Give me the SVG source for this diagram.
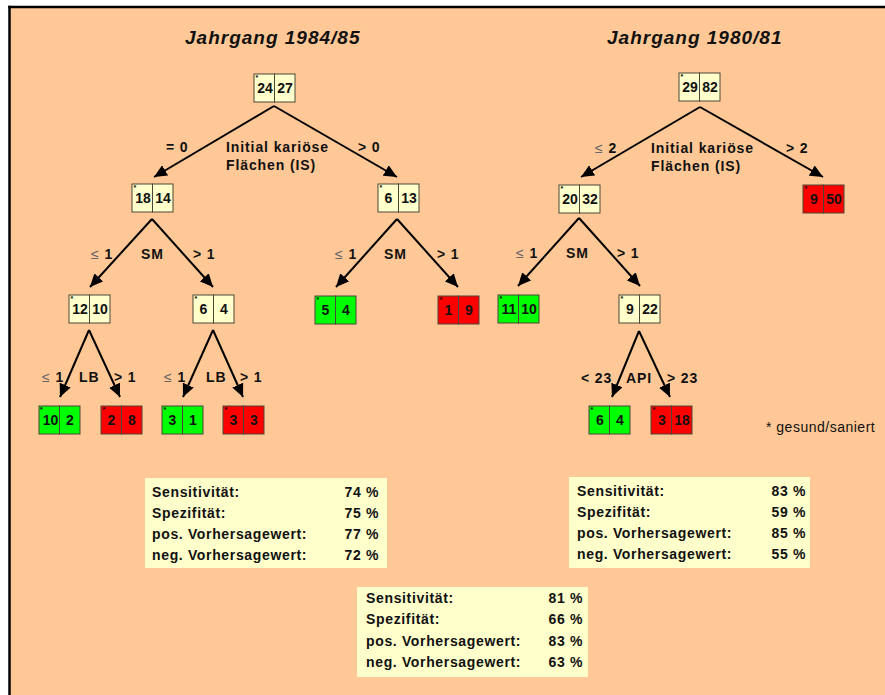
<svg xmlns="http://www.w3.org/2000/svg" width="885" height="695" viewBox="0 0 885 695">
<defs>
<marker id="ah" markerUnits="userSpaceOnUse" markerWidth="13" markerHeight="12" refX="13" refY="6" orient="auto">
<path d="M0,0 L13,6 L0,12 Z" fill="#000"/>
</marker>
<style>
text{font-family:"Liberation Sans",Arial,sans-serif;fill:#111}
.t{font-size:19px;font-weight:bold;font-style:italic;letter-spacing:1px}
.l{font-size:14px;font-weight:bold;letter-spacing:0.9px}
.le{fill:#666;font-weight:normal}
.n{font-size:14px;font-weight:bold;text-anchor:middle}
.st{font-size:7px;font-weight:bold}
.c{stroke:#4a4636;stroke-width:1}
.y{fill:#FFFFCC}
.g{fill:#00FF00}
.r{fill:#FF0000}
.s{font-size:14px;font-weight:bold;letter-spacing:0.65px}
.v{font-size:14px;font-weight:bold;letter-spacing:0.65px;text-anchor:end}
.box{fill:#FFFFCC}
.cn line{stroke:#000;stroke-width:2;marker-end:url(#ah)}
</style>
</defs>
<rect x="0" y="0" width="885" height="695" fill="#fff"/>
<rect x="9" y="7" width="876" height="688" fill="#FFC896"/>
<line x1="9.5" y1="5.8" x2="9.5" y2="695" stroke="#000" stroke-width="2.5"/>
<line x1="8.3" y1="7" x2="885" y2="7" stroke="#000" stroke-width="2.5"/>

<text class="t" x="185" y="44">Jahrgang 1984/85</text>
<text class="t" x="607" y="44">Jahrgang 1980/81</text>

<g class="cn" id="connectors">
<line x1="274" y1="106" x2="154" y2="177"/>
<line x1="274" y1="106" x2="397" y2="177"/>
<line x1="152" y1="219" x2="90" y2="287"/>
<line x1="152" y1="219" x2="213" y2="287"/>
<line x1="397" y1="219" x2="336" y2="287"/>
<line x1="397" y1="219" x2="458" y2="287"/>
<line x1="89" y1="330" x2="60" y2="397"/>
<line x1="89" y1="330" x2="120" y2="397"/>
<line x1="213" y1="330" x2="183" y2="397"/>
<line x1="213" y1="330" x2="243" y2="397"/>
<line x1="700" y1="107" x2="581" y2="177"/>
<line x1="700" y1="107" x2="823" y2="177"/>
<line x1="579" y1="218" x2="518" y2="286"/>
<line x1="579" y1="218" x2="640" y2="286"/>
<line x1="639" y1="331" x2="612" y2="397"/>
<line x1="639" y1="331" x2="670" y2="397"/>
</g>

<g id="labels">
<text class="l" x="166" y="152">= 0</text>
<text class="l" x="226" y="152">Initial kariöse</text>
<text class="l" x="226" y="170">Flächen (IS)</text>
<text class="l" x="358" y="152">&gt; 0</text>
<text class="l" x="91" y="259"><tspan class="le">≤</tspan> 1</text>
<text class="l" x="141" y="259">SM</text>
<text class="l" x="193" y="259">&gt; 1</text>
<text class="l" x="335" y="259"><tspan class="le">≤</tspan> 1</text>
<text class="l" x="384" y="259">SM</text>
<text class="l" x="437" y="259">&gt; 1</text>
<text class="l" x="42" y="382"><tspan class="le">≤</tspan> 1</text>
<text class="l" x="79" y="382">LB</text>
<text class="l" x="114" y="382">&gt; 1</text>
<text class="l" x="164" y="382"><tspan class="le">≤</tspan> 1</text>
<text class="l" x="206" y="382">LB</text>
<text class="l" x="240" y="382">&gt; 1</text>
<text class="l" x="595" y="153"><tspan class="le">≤</tspan> 2</text>
<text class="l" x="651" y="153">Initial kariöse</text>
<text class="l" x="651" y="171">Flächen (IS)</text>
<text class="l" x="786" y="153">&gt; 2</text>
<text class="l" x="516" y="258"><tspan class="le">≤</tspan> 1</text>
<text class="l" x="566" y="258">SM</text>
<text class="l" x="617" y="258">&gt; 1</text>
<text class="l" x="581" y="383">&lt; 23</text>
<text class="l" x="626" y="383">API</text>
<text class="l" x="667" y="383">&gt; 23</text>
<text x="766" y="432" style="font-size:14px;letter-spacing:0.5px">* gesund/saniert</text>
</g>

<g id="L-root" transform="translate(254,74)"><rect class="c y" x="0" y="0" width="20.5" height="28"/><rect class="c y" x="20.5" y="0" width="20.5" height="28"/><text class="st" x="1.5" y="6">*</text><text class="n" x="11" y="19">24</text><text class="n" x="31" y="19">27</text></g>
<g id="L-a" transform="translate(132,184)"><rect class="c y" x="0" y="0" width="20.5" height="28"/><rect class="c y" x="20.5" y="0" width="20.5" height="28"/><text class="st" x="1.5" y="6">*</text><text class="n" x="11" y="19">18</text><text class="n" x="31" y="19">14</text></g>
<g id="L-b" transform="translate(378,184)"><rect class="c y" x="0" y="0" width="20.5" height="28"/><rect class="c y" x="20.5" y="0" width="20.5" height="28"/><text class="st" x="1.5" y="6">*</text><text class="n" x="10.5" y="19">6</text><text class="n" x="31" y="19">13</text></g>
<g id="L-aa" transform="translate(69,295)"><rect class="c y" x="0" y="0" width="20.5" height="28"/><rect class="c y" x="20.5" y="0" width="20.5" height="28"/><text class="st" x="1.5" y="6">*</text><text class="n" x="11" y="19">12</text><text class="n" x="31" y="19">10</text></g>
<g id="L-ab" transform="translate(193,295)"><rect class="c y" x="0" y="0" width="20.5" height="28"/><rect class="c y" x="20.5" y="0" width="20.5" height="28"/><text class="st" x="1.5" y="6">*</text><text class="n" x="10.5" y="19">6</text><text class="n" x="31" y="19">4</text></g>
<g id="L-ba" transform="translate(315,296)"><rect class="c g" x="0" y="0" width="20.5" height="28"/><rect class="c g" x="20.5" y="0" width="20.5" height="28"/><text class="st" x="1.5" y="6">*</text><text class="n" x="10.5" y="19">5</text><text class="n" x="31" y="19">4</text></g>
<g id="L-bb" transform="translate(438,296)"><rect class="c r" x="0" y="0" width="20.5" height="28"/><rect class="c r" x="20.5" y="0" width="20.5" height="28"/><text class="st" x="1.5" y="6">*</text><text class="n" x="10.5" y="19">1</text><text class="n" x="31" y="19">9</text></g>
<g id="L-aaa" transform="translate(39,406)"><rect class="c g" x="0" y="0" width="20.5" height="28"/><rect class="c g" x="20.5" y="0" width="20.5" height="28"/><text class="st" x="1" y="6">*</text><text class="n" x="11.5" y="19">10</text><text class="n" x="31" y="19">2</text></g>
<g id="L-aab" transform="translate(101,406)"><rect class="c r" x="0" y="0" width="20.5" height="28"/><rect class="c r" x="20.5" y="0" width="20.5" height="28"/><text class="st" x="1.5" y="6">*</text><text class="n" x="10.5" y="19">2</text><text class="n" x="31" y="19">8</text></g>
<g id="L-aba" transform="translate(162,406)"><rect class="c g" x="0" y="0" width="20.5" height="28"/><rect class="c g" x="20.5" y="0" width="20.5" height="28"/><text class="st" x="1.5" y="6">*</text><text class="n" x="10.5" y="19">3</text><text class="n" x="31" y="19">1</text></g>
<g id="L-abb" transform="translate(223,406)"><rect class="c r" x="0" y="0" width="20.5" height="28"/><rect class="c r" x="20.5" y="0" width="20.5" height="28"/><text class="st" x="1.5" y="6">*</text><text class="n" x="10.5" y="19">3</text><text class="n" x="31" y="19">3</text></g>

<g id="R-root" transform="translate(679,73)"><rect class="c y" x="0" y="0" width="20.5" height="28"/><rect class="c y" x="20.5" y="0" width="20.5" height="28"/><text class="st" x="1.5" y="6">*</text><text class="n" x="11" y="19">29</text><text class="n" x="31" y="19">82</text></g>
<g id="R-a" transform="translate(559,185)"><rect class="c y" x="0" y="0" width="20.5" height="28"/><rect class="c y" x="20.5" y="0" width="20.5" height="28"/><text class="st" x="1.5" y="6">*</text><text class="n" x="11" y="19">20</text><text class="n" x="31" y="19">32</text></g>
<g id="R-b" transform="translate(803,185)"><rect class="c r" x="0" y="0" width="20.5" height="28"/><rect class="c r" x="20.5" y="0" width="20.5" height="28"/><text class="st" x="1.5" y="6">*</text><text class="n" x="11" y="19">9</text><text class="n" x="31" y="19">50</text></g>
<g id="R-aa" transform="translate(498,295)"><rect class="c g" x="0" y="0" width="20.5" height="28"/><rect class="c g" x="20.5" y="0" width="20.5" height="28"/><text class="st" x="1.5" y="6">*</text><text class="n" x="11" y="19">11</text><text class="n" x="31" y="19">10</text></g>
<g id="R-ab" transform="translate(619,295)"><rect class="c y" x="0" y="0" width="20.5" height="28"/><rect class="c y" x="20.5" y="0" width="20.5" height="28"/><text class="st" x="1.5" y="6">*</text><text class="n" x="11" y="19">9</text><text class="n" x="31" y="19">22</text></g>
<g id="R-aba" transform="translate(589,406)"><rect class="c g" x="0" y="0" width="20.5" height="28"/><rect class="c g" x="20.5" y="0" width="20.5" height="28"/><text class="st" x="1.5" y="6">*</text><text class="n" x="11" y="19">6</text><text class="n" x="31" y="19">4</text></g>
<g id="R-abb" transform="translate(651,406)"><rect class="c r" x="0" y="0" width="20.5" height="28"/><rect class="c r" x="20.5" y="0" width="20.5" height="28"/><text class="st" x="1.5" y="6">*</text><text class="n" x="11" y="19">3</text><text class="n" x="31" y="19">18</text></g>

<g id="stats-left">
<rect class="box" x="145" y="478" width="242" height="90"/>
<text class="s" x="152" y="497">Sensitivität:</text><text class="v" x="379" y="497">74 %</text>
<text class="s" x="152" y="518">Spezifität:</text><text class="v" x="379" y="518">75 %</text>
<text class="s" x="152" y="539">pos. Vorhersagewert:</text><text class="v" x="379" y="539">77 %</text>
<text class="s" x="152" y="560">neg. Vorhersagewert:</text><text class="v" x="379" y="560">72 %</text>
</g>
<g id="stats-right">
<rect class="box" x="569" y="477" width="241" height="91"/>
<text class="s" x="577" y="496">Sensitivität:</text><text class="v" x="806" y="496">83 %</text>
<text class="s" x="577" y="517">Spezifität:</text><text class="v" x="806" y="517">59 %</text>
<text class="s" x="577" y="538">pos. Vorhersagewert:</text><text class="v" x="806" y="538">85 %</text>
<text class="s" x="577" y="559">neg. Vorhersagewert:</text><text class="v" x="806" y="559">55 %</text>
</g>
<g id="stats-bottom">
<rect class="box" x="357" y="587" width="231" height="90"/>
<text class="s" x="366" y="603">Sensitivität:</text><text class="v" x="583" y="603">81 %</text>
<text class="s" x="366" y="624">Spezifität:</text><text class="v" x="583" y="624">66 %</text>
<text class="s" x="366" y="646">pos. Vorhersagewert:</text><text class="v" x="583" y="646">83 %</text>
<text class="s" x="366" y="667">neg. Vorhersagewert:</text><text class="v" x="583" y="667">63 %</text>
</g>
</svg>
